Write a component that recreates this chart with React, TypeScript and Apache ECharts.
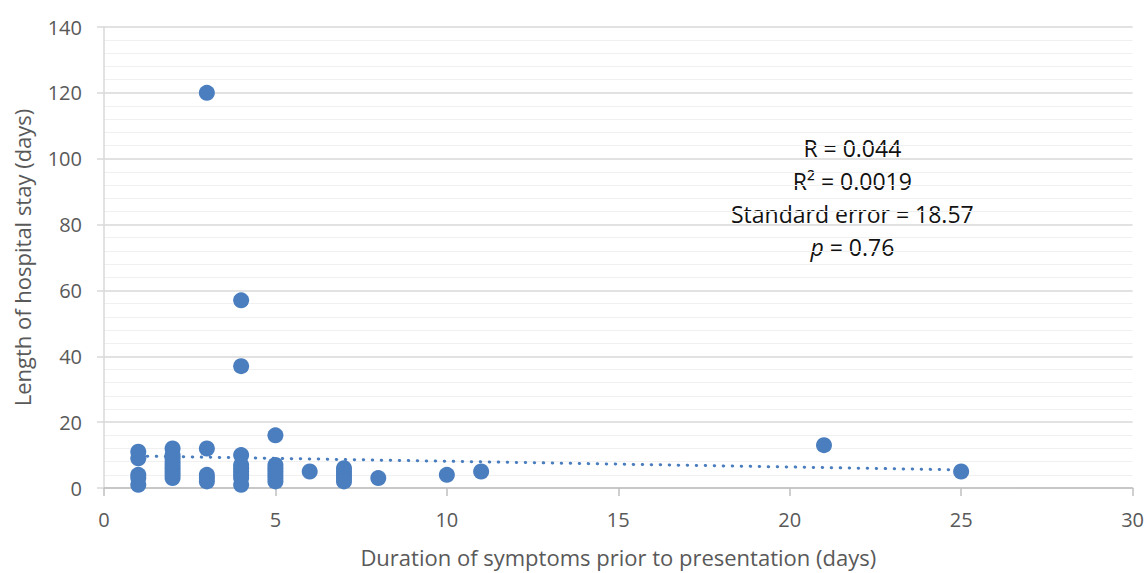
import React, { useEffect, useRef } from "react";
import * as echarts from "echarts";

const xTicks = [0, 5, 10, 15, 20, 25, 30];
const yTicks = [0, 20, 40, 60, 80, 100, 120, 140];

// [duration of symptoms, length of stay]
const points: [number, number][] = [
  [1, 11], [1, 9], [1, 4], [1, 3], [1, 1],
  [2, 12], [2, 10], [2, 9], [2, 8], [2, 7], [2, 6], [2, 5], [2, 4], [2, 3],
  [3, 120], [3, 12], [3, 4], [3, 3], [3, 2],
  [4, 57], [4, 37], [4, 10], [4, 7], [4, 6], [4, 5], [4, 4], [4, 3], [4, 1],
  [5, 16], [5, 7], [5, 6], [5, 5], [5, 4], [5, 3], [5, 2],
  [6, 5],
  [7, 6], [7, 5], [7, 4], [7, 3], [7, 2],
  [8, 3],
  [10, 4],
  [11, 5],
  [21, 13],
  [25, 5],
];

const trend: [number, number][] = [
  [1, 9.7],
  [25, 5.5],
];

const statLines = ["R = 0.044", "R² = 0.0019", "Standard error = 18.57", "p = 0.76"];

export default function App() {
  const ref = useRef<HTMLDivElement>(null);
  useEffect(() => {
    if (!ref.current) return;
    const chart = echarts.init(ref.current, undefined, { renderer: "svg" });
    const font = "Open Sans";
    chart.setOption({
      animation: false,
      backgroundColor: "#ffffff",
      grid: { left: 104, right: 13, top: 27, bottom: 73, containLabel: false },
      xAxis: {
        type: "value",
        min: xTicks[0],
        max: xTicks[xTicks.length - 1],
        interval: 5,
        name: "Duration of symptoms prior to presentation (days)",
        nameLocation: "middle",
        nameGap: 58,
        nameTextStyle: { color: "#595959", fontSize: 22, fontFamily: font },
        axisLine: { show: true, lineStyle: { color: "#bfbfbf", width: 1.5 } },
        axisTick: { show: true, length: 8, lineStyle: { color: "#bfbfbf", width: 1.5 } },
        axisLabel: { color: "#595959", fontSize: 20, fontFamily: font, margin: 21 },
        splitLine: { show: false },
      },
      yAxis: {
        type: "value",
        min: yTicks[0],
        max: yTicks[yTicks.length - 1],
        interval: 20,
        name: "Length of hospital stay (days)",
        nameLocation: "middle",
        nameGap: 71,
        nameTextStyle: { color: "#595959", fontSize: 22, fontFamily: font },
        axisLine: { show: true, lineStyle: { color: "#d9d9d9", width: 1.5 } },
        axisTick: { show: true, length: 7, lineStyle: { color: "#d9d9d9", width: 1.5 } },
        axisLabel: { color: "#595959", fontSize: 20, fontFamily: font, margin: 22 },
        splitLine: { show: true, lineStyle: { color: "#d9d9d9", width: 1.5 } },
        minorTick: { show: false, splitNumber: 5 },
        minorSplitLine: { show: true, lineStyle: { color: "#f0f0f0", width: 1 } },
      },
      series: [
        {
          type: "line",
          data: trend,
          symbol: "none",
          lineStyle: { color: "#4a7ebf", width: 3, type: [0.5, 8.5], cap: "round" },
          z: 1,
        },
        {
          type: "scatter",
          data: points,
          symbolSize: 16,
          itemStyle: { color: "#4a7ebf", opacity: 1 },
          z: 2,
        },
      ],
      graphic: [
        {
          type: "group",
          left: 731,
          top: 136,
          children: statLines.map((t, i) => ({
            type: "text",
            x: 0,
            y: i * 33,
            style:
              i === 3
                ? {
                    text: "{i|p} = 0.76",
                    rich: {
                      i: { fontStyle: "italic", fontSize: 23, fontFamily: font, fill: "#111" },
                    },
                    fontSize: 23,
                    fontFamily: font,
                    fill: "#111",
                    align: "center",
                  }
                : { text: t, fontSize: 23, fontFamily: font, fill: "#111", align: "center" },
          })),
        },
      ],
    });
    return () => chart.dispose();
  }, []);
  return (
    <div
      ref={ref}
      style={{ position: "absolute", left: 0, top: 0, width: 1147, height: 573 }}
    />
  );
}
